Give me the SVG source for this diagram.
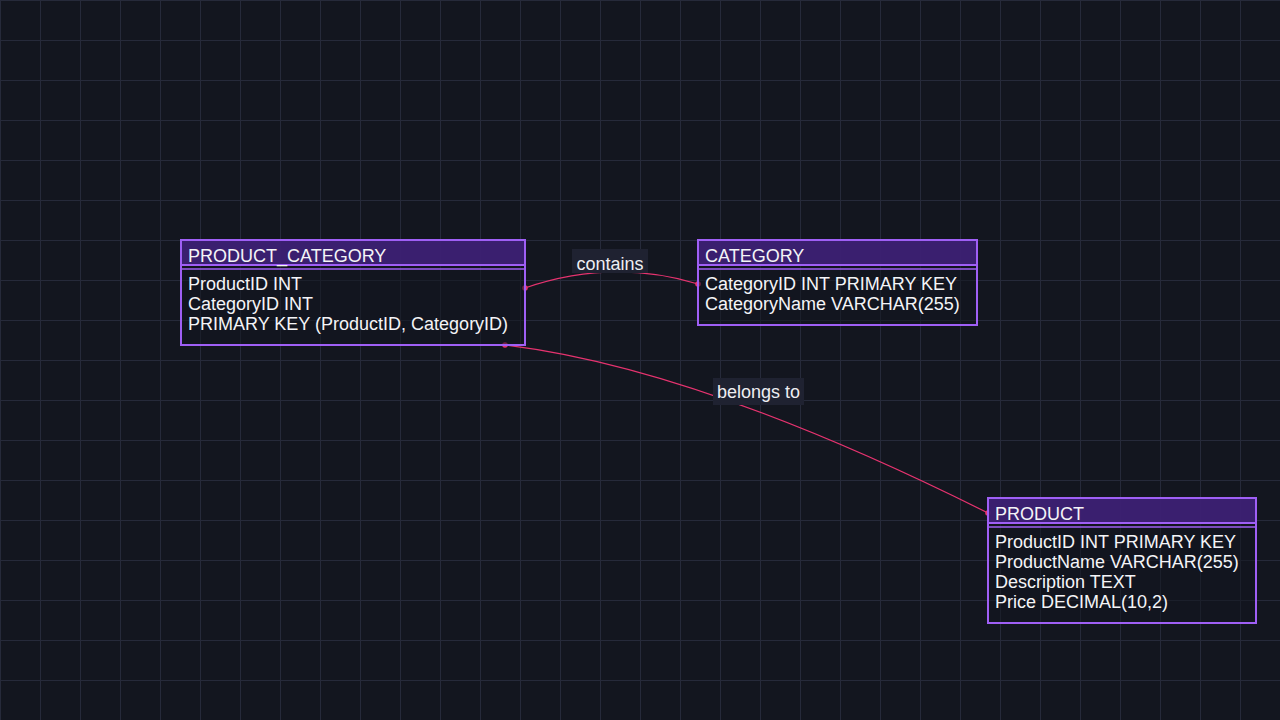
<svg xmlns="http://www.w3.org/2000/svg" width="1280" height="720" viewBox="0 0 1280 720">
  <defs>
    <pattern id="grid" width="40" height="40" patternUnits="userSpaceOnUse">
      <rect width="40" height="1" fill="#262a3a"/>
      <rect width="1" height="40" fill="#262a3a"/>
    </pattern>
    <style>
      .box { fill: #13161f; fill-opacity: 0.55; stroke: #9f5ff5; stroke-width: 2; }
      .head { fill: #3e2176; fill-opacity: 0.92; stroke: #9f5ff5; stroke-width: 2; }
      .sep { stroke: #9f5ff5; stroke-width: 1.5; }
      .title { font-family: "Liberation Sans", Arial, sans-serif; font-size: 18px; fill: #f4f4f7; }
      .row { font-family: "Liberation Sans", Arial, sans-serif; font-size: 18px; fill: #f4f4f7; }
      .edge { fill: none; stroke: #e6336f; stroke-width: 1.2; }
      .end { fill: #e6336f; }
      .lbl-bg { fill: #1f2231; }
      .lbl { font-family: "Liberation Sans", Arial, sans-serif; font-size: 18px; fill: #eeeef2; text-anchor: middle; }
    </style>
  </defs>

  <rect width="1280" height="720" fill="#13161f"/>
  <rect width="1280" height="720" fill="url(#grid)"/>

  <!-- relationships -->
  <g id="edges">
    <path class="edge" d="M525 288 Q612 258 698 284"/>
    <circle class="end" cx="525" cy="288" r="2.8"/>
    <circle class="end" cx="698" cy="284" r="2.8"/>
    <rect class="lbl-bg" x="572" y="249" width="76" height="24"/>
    <text class="lbl" x="610" y="270">contains</text>

    <path class="edge" d="M505 345 Q698 368 988 513"/>
    <circle class="end" cx="505" cy="345" r="2.8"/>
    <circle class="end" cx="988" cy="513" r="2.8"/>
    <rect class="lbl-bg" x="713" y="378" width="91" height="27"/>
    <text class="lbl" x="758.5" y="398">belongs to</text>
  </g>

  <!-- PRODUCT_CATEGORY table -->
  <g id="product_category">
    <rect class="box" x="181" y="240" width="344" height="105"/>
    <rect class="head" x="181" y="240" width="344" height="25"/>
    <line class="sep" x1="181" y1="269" x2="525" y2="269"/>
    <text class="title" x="188" y="262">PRODUCT_CATEGORY</text>
    <text class="row" x="188" y="290">ProductID INT</text>
    <text class="row" x="188" y="310">CategoryID INT</text>
    <text class="row" x="188" y="330">PRIMARY KEY (ProductID, CategoryID)</text>
  </g>

  <!-- CATEGORY table -->
  <g id="category">
    <rect class="box" x="698" y="240" width="279" height="85"/>
    <rect class="head" x="698" y="240" width="279" height="25"/>
    <line class="sep" x1="698" y1="269" x2="977" y2="269"/>
    <text class="title" x="705" y="262">CATEGORY</text>
    <text class="row" x="705" y="290">CategoryID INT PRIMARY KEY</text>
    <text class="row" x="705" y="310">CategoryName VARCHAR(255)</text>
  </g>

  <!-- PRODUCT table -->
  <g id="product">
    <rect class="box" x="988" y="498" width="268" height="125"/>
    <rect class="head" x="988" y="498" width="268" height="25"/>
    <line class="sep" x1="988" y1="527" x2="1256" y2="527"/>
    <text class="title" x="995" y="520">PRODUCT</text>
    <text class="row" x="995" y="548">ProductID INT PRIMARY KEY</text>
    <text class="row" x="995" y="568">ProductName VARCHAR(255)</text>
    <text class="row" x="995" y="588">Description TEXT</text>
    <text class="row" x="995" y="608">Price DECIMAL(10,2)</text>
  </g>
</svg>
